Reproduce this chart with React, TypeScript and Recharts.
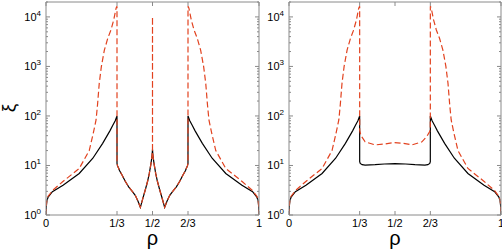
import { LineChart, Line, XAxis, YAxis } from "recharts";

const AXIS = "#8a8a8a";
const BLACK = "#000000";
const RED = "#e2421f";
const FONT = "'Liberation Sans', Arial, sans-serif";

// tick positions / labels
const xTicks = [0, 1 / 3, 1 / 2, 2 / 3, 1];
const xTickLabels = ["0", "1/3", "1/2", "2/3", "1"];
const yMajor = [1, 10, 100, 1000, 10000];
const yTicks = [
  1, 2, 3, 4, 5, 6, 7, 8, 9,
  10, 20, 30, 40, 50, 60, 70, 80, 90,
  100, 200, 300, 400, 500, 600, 700, 800, 900,
  1000, 2000, 3000, 4000, 5000, 6000, 7000, 8000, 9000,
  10000, 20000,
];

// black curve, 0 -> 1/3
const rhoBlkL = [0, 0.001, 0.004, 0.01, 0.03, 0.08, 0.156, 0.22, 0.266, 0.3, 0.313, 0.325, 0.3333];
const xiBlkL = [1, 1.4, 1.9, 2.3, 2.95, 4.0, 6.9, 14, 28, 50, 64, 80, 100];
// black curve, 2/3 -> 1
const rhoBlkR = [0.6667, 0.675, 0.687, 0.7, 0.734, 0.78, 0.844, 0.92, 0.97, 0.99, 0.996, 0.999, 1];
const xiBlkR = [100, 80, 64, 50, 28, 14, 6.9, 4.0, 2.95, 2.3, 1.9, 1.4, 1];

// red dashed, 0 -> 1/3
const rhoRedL = [0, 0.001, 0.004, 0.01, 0.03, 0.078, 0.156, 0.203, 0.222, 0.235, 0.242, 0.25, 0.26, 0.274, 0.29, 0.305, 0.318, 0.329, 0.3333];
const xiRedL = [1, 1.5, 2.0, 2.4, 3.1, 4.7, 8.7, 20, 45, 83, 170, 455, 1000, 2140, 3700, 5450, 8700, 15000, 16500];
// red dashed, 2/3 -> 1
const rhoRedR = [0.6667, 0.671, 0.682, 0.695, 0.71, 0.726, 0.74, 0.75, 0.758, 0.765, 0.778, 0.797, 0.844, 0.922, 0.97, 0.99, 0.996, 0.999, 1];
const xiRedR = [16500, 15000, 8700, 5450, 3700, 2140, 1000, 455, 170, 83, 45, 20, 8.7, 4.7, 3.1, 2.4, 2.0, 1.5, 1];

// left panel, middle region (both curves)
const rhoMidA = [0.3334, 0.336, 0.341, 0.345, 0.357, 0.372, 0.388, 0.405, 0.419, 0.432, 0.443, 0.455, 0.466, 0.477, 0.485, 0.493, 0.498, 0.5];
const xiMidA = [11, 9.8, 8.8, 7.9, 6.4, 4.8, 3.7, 3.0, 2.5, 1.9, 1.43, 2.2, 3.2, 4.8, 6.9, 11, 16, 21];
const rhoMidB = [0.5, 0.502, 0.507, 0.515, 0.523, 0.534, 0.545, 0.557, 0.568, 0.581, 0.595, 0.612, 0.628, 0.643, 0.655, 0.659, 0.664, 0.6666];
const xiMidB = [21, 16, 11, 6.9, 4.8, 3.2, 2.2, 1.43, 1.9, 2.5, 3.0, 3.7, 4.8, 6.4, 7.9, 8.8, 9.8, 11];
const rhoSpike = [0.5];
const xiSpike = [10000];

// right panel, middle region
const rhoFlatBlk = [0.3334, 0.336, 0.345, 0.359, 0.406, 0.45, 0.5, 0.55, 0.594, 0.641, 0.655, 0.664, 0.6666];
const xiFlatBlk = [12, 11, 10.4, 10.2, 10.4, 10.7, 10.9, 10.7, 10.4, 10.2, 10.4, 11, 12];
const rhoFlatRed = [0.3334, 0.337, 0.343, 0.359, 0.406, 0.446, 0.493, 0.54, 0.58, 0.627, 0.651, 0.663, 0.6666];
const xiFlatRed = [52, 44, 38, 30, 26, 27, 29, 28, 26, 30, 39, 48, 55];

type Pt = { rho: number; xi: number };
const pts = (r: number[], v: number[]): Pt[] => r.map((x, i) => ({ rho: x, xi: v[i] }));

const leftBlack = [...pts(rhoBlkL, xiBlkL), ...pts(rhoMidA, xiMidA), ...pts(rhoMidB, xiMidB), ...pts(rhoBlkR, xiBlkR)];
const leftRed = [
  ...pts(rhoRedL, xiRedL),
  ...pts(rhoMidA, xiMidA),
  ...pts(rhoSpike, xiSpike),
  ...pts(rhoMidB, xiMidB),
  ...pts(rhoRedR, xiRedR),
];
const rightBlack = [...pts(rhoBlkL, xiBlkL), ...pts(rhoFlatBlk, xiFlatBlk), ...pts(rhoBlkR, xiBlkR)];
const rightRed = [...pts(rhoRedL, xiRedL), ...pts(rhoFlatRed, xiFlatRed), ...pts(rhoRedR, xiRedR)];

const isMajor = (v: number) => yMajor.includes(v);

function BottomTick(props: any) {
  const { x, y, payload } = props;
  const i = xTicks.findIndex((t) => Math.abs(t - payload.value) < 1e-6);
  return (
    <g>
      <line x1={x} x2={x} y1={y} y2={y - 4} stroke={AXIS} />
      <text x={x} y={y + 12} textAnchor="middle" fontSize={11} fontFamily={FONT} fill="#000">
        {xTickLabels[i]}
      </text>
    </g>
  );
}

function TopTick(props: any) {
  const { x, y } = props;
  return <line x1={x} x2={x} y1={y} y2={y + 4} stroke={AXIS} />;
}

function LeftTick(props: any) {
  const { x, y, payload } = props;
  const major = isMajor(payload.value);
  return (
    <g>
      <line x1={x} x2={x + (major ? 4 : 2)} y1={y} y2={y} stroke={AXIS} />
      {major && (
        <text x={x - 5} y={y + 4} textAnchor="end" fontSize={11} fontFamily={FONT} fill="#000">
          10
          <tspan dy={-5} fontSize={8}>
            {Math.round(Math.log10(payload.value))}
          </tspan>
        </text>
      )}
    </g>
  );
}

function RightTick(props: any) {
  const { x, y, payload } = props;
  const major = isMajor(payload.value);
  return <line x1={x} x2={x - (major ? 4 : 2)} y1={y} y2={y} stroke={AXIS} />;
}

function Panel({ black, red, width, yWidth, rWidth }: { black: Pt[]; red: Pt[]; width: number; yWidth: number; rWidth: number }) {
  return (
    <LineChart width={width} height={252} margin={{ top: 0, right: 0, bottom: 0, left: 0 }}>
      <XAxis
        xAxisId="b"
        dataKey="rho"
        type="number"
        domain={[0, 1]}
        ticks={xTicks}
        interval={0}
        height={37}
        tickSize={0}
        tickMargin={0}
        tickLine={false}
        axisLine={{ stroke: AXIS }}
        tick={BottomTick}
        allowDataOverflow
      />
      <XAxis
        xAxisId="t"
        orientation="top"
        dataKey="rho"
        type="number"
        domain={[0, 1]}
        ticks={xTicks}
        interval={0}
        height={2}
        tickSize={0}
        tickMargin={0}
        tickLine={false}
        axisLine={{ stroke: AXIS }}
        tick={TopTick}
        allowDataOverflow
      />
      <YAxis
        yAxisId="l"
        type="number"
        scale="log"
        domain={[1, 20000]}
        ticks={yTicks}
        interval={0}
        width={yWidth}
        tickSize={0}
        tickMargin={0}
        tickLine={false}
        axisLine={{ stroke: AXIS }}
        tick={LeftTick}
        allowDataOverflow
      />
      <YAxis
        yAxisId="r"
        orientation="right"
        type="number"
        scale="log"
        domain={[1, 20000]}
        ticks={yTicks}
        interval={0}
        width={rWidth}
        tickSize={0}
        tickMargin={0}
        tickLine={false}
        axisLine={{ stroke: AXIS }}
        tick={RightTick}
        allowDataOverflow
      />
      <Line
        xAxisId="b"
        yAxisId="l"
        data={black}
        dataKey="xi"
        type="linear"
        stroke={BLACK}
        strokeWidth={1.2}
        dot={false}
        isAnimationActive={false}
      />
      <Line
        xAxisId="b"
        yAxisId="l"
        data={red}
        dataKey="xi"
        type="linear"
        stroke={RED}
        strokeWidth={1.2}
        strokeDasharray="6 3"
        dot={false}
        isAnimationActive={false}
      />
    </LineChart>
  );
}

export default function App() {
  return (
    <div style={{ position: "fixed", left: 0, top: 0, width: 502, height: 252, background: "#fff" }}>
      <div style={{ position: "absolute", left: 0, top: 0 }}>
        <Panel black={leftBlack} red={leftRed} width={262} yWidth={46} rWidth={3} />
      </div>
      <div style={{ position: "absolute", left: 262, top: 0 }}>
        <Panel black={rightBlack} red={rightRed} width={240} yWidth={27} rWidth={1} />
      </div>
      <svg width={502} height={252} style={{ position: "absolute", left: 0, top: 0, pointerEvents: "none" }}>
        <text x={152.5} y={245} textAnchor="middle" fontSize={20} fontFamily={FONT} fill="#000">
          ρ
        </text>
        <text x={395} y={245} textAnchor="middle" fontSize={20} fontFamily={FONT} fill="#000">
          ρ
        </text>
        <text
          transform="translate(15,108) rotate(-90)"
          textAnchor="middle"
          fontSize={19}
          fontFamily={FONT}
          fill="#000"
        >
          ξ
        </text>
      </svg>
    </div>
  );
}
